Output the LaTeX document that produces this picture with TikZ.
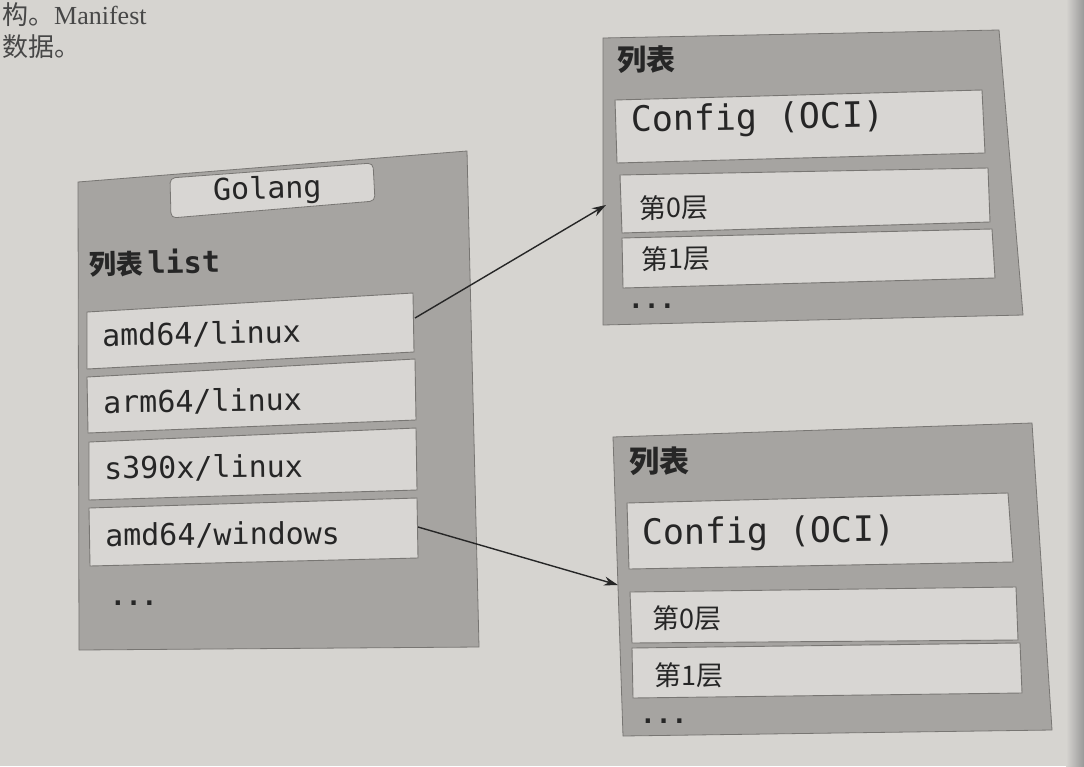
\documentclass[tikz,border=0pt]{standalone}
\usepackage{fontspec}
\setmonofont{DejaVu Sans Mono}
\newfontfamily\cjk{Noto Sans CJK SC}
\usetikzlibrary{arrows.meta}
\definecolor{page}{RGB}{214,212,208}
\definecolor{outerfill}{RGB}{166,164,161}
\definecolor{innerfill}{RGB}{216,214,211}
\definecolor{edge}{RGB}{120,118,115}
\definecolor{ink}{RGB}{38,38,38}
\tikzset{
  outerbox/.style={fill=outerfill, draw=edge, line width=0.8pt},
  innerbox/.style={fill=innerfill, draw=edge, line width=0.9pt},
  tabbox/.style={fill=innerfill, draw=edge, line width=0.8pt, rounded corners=5pt},
  monotxt/.style={anchor=west, inner sep=0pt, text=ink, font=\ttfamily\fontsize{30}{30}\selectfont},
  cfgtxt/.style={anchor=west, inner sep=0pt, text=ink, font=\ttfamily\fontsize{35}{35}\selectfont},
  cjktxt/.style={anchor=west, inner sep=0pt, text=ink, font=\cjk\fontsize{27}{27}\selectfont},
  headtxt/.style={anchor=west, inner sep=0pt, text=ink, font=\cjk\bfseries\fontsize{29}{29}\selectfont},
  dotstxt/.style={anchor=west, inner sep=0pt, text=ink, font=\ttfamily\bfseries\fontsize{26}{26}\selectfont},
  pagetxt/.style={anchor=west, inner sep=0pt, text=ink!85, font=\cjk\fontsize{26}{26}\selectfont},
  link/.style={draw=ink, line width=1.4pt, -{Stealth[length=14pt,width=9pt]}}
}
\begin{document}
\begin{tikzpicture}[x=1pt,y=-1pt]
\useasboundingbox (0,0) rectangle (1084,766);
\clip (0,0) rectangle (1084,766);
\fill[page] (0,0) rectangle (1084,766);
\shade[left color=page, right color=black!40] (1066,0) rectangle (1084,766);

% page text fragments
\node[pagetxt] (p1) at (2,15) {构。\fontspec{Liberation Serif}Manifest};
\node[pagetxt] (p2) at (2,47) {数据。};

% ---------- left box ----------
\fill[outerbox] (78,182) -- (467,151) -- (479,647) -- (79,650) -- cycle;
\draw[tabbox] (170,178) -- (373,163) -- (375,201) -- (171,218) -- cycle;
\node[monotxt, rotate=1.5] (golang) at (213,192) {Golang};
\node[headtxt, rotate=1, font=\cjk\bfseries\fontsize{27}{27}\selectfont] (list) at (89,264) {列表\,\ttfamily\bfseries\fontsize{30}{30}\selectfont list};

\draw[innerbox] (87,312) -- (413,293) -- (414,352) -- (87,369) -- cycle;
\node[monotxt, rotate=1] (a1) at (102,336) {amd64/linux};
\draw[innerbox] (87,377) -- (415,359) -- (416,420) -- (88,433) -- cycle;
\node[monotxt, rotate=0.8] (a2) at (103,403) {arm64/linux};
\draw[innerbox] (89,442) -- (416,428) -- (417,490) -- (89,500) -- cycle;
\node[monotxt, rotate=0.6] (a3) at (104,469) {s390x/linux};
\draw[innerbox] (89,508) -- (417,498) -- (418,558) -- (90,566) -- cycle;
\node[monotxt, rotate=0.5] (a4) at (105,536) {amd64/windows};
\node[dotstxt] (ldots) at (110,603) {...};

% ---------- right top box ----------
\fill[outerbox] (603,38) -- (999,30) -- (1023,315) -- (603,325) -- cycle;
\node[headtxt] (h1) at (617,60) {列表};
\draw[innerbox] (615,100) -- (982,90) -- (985,153) -- (617,163) -- cycle;
\node[cfgtxt, rotate=1] (c1) at (631,122) {Config (OCI)};
\draw[innerbox] (620,175) -- (988,168) -- (990,222) -- (622,233) -- cycle;
\node[cjktxt, rotate=0.5] (l10) at (639,208) {第0层};
\draw[innerbox] (622,238) -- (992,229) -- (995,278) -- (623,288) -- cycle;
\node[cjktxt, rotate=0.5] (l11) at (641,259) {第1层};
\node[dotstxt] (rdots1) at (628,306) {...};

% ---------- right bottom box ----------
\fill[outerbox] (613,437) -- (1032,423) -- (1052,730) -- (623,736) -- cycle;
\node[headtxt, font=\cjk\bfseries\fontsize{30}{30}\selectfont] (h2) at (629,461) {列表};
\draw[innerbox] (627,503) -- (1008,493) -- (1013,562) -- (629,569) -- cycle;
\node[cfgtxt, rotate=0.7] (c2) at (642,535) {Config (OCI)};
\draw[innerbox] (630,592) -- (1016,587) -- (1018,640) -- (632,643) -- cycle;
\node[cjktxt] (l20) at (652,618) {第0层};
\draw[innerbox] (632,648) -- (1020,643) -- (1022,693) -- (633,698) -- cycle;
\node[cjktxt] (l21) at (654,675) {第1层};
\node[dotstxt] (rdots2) at (640,721) {...};

% ---------- connectors ----------
\coordinate (from1) at (415,318);
\coordinate (to1) at (606,205);
\coordinate (from2) at (418,527);
\coordinate (to2) at (618,585);
\draw[link] (from1) -- (to1);
\draw[link] (from2) -- (to2);
\end{tikzpicture}
\end{document}
